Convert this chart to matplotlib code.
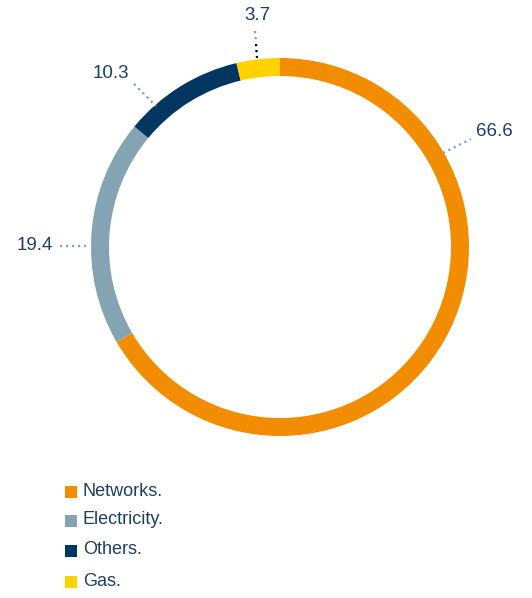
import matplotlib.pyplot as plt

# Reparto por negocio (%)
categorias = ["Networks.", "Electricity.", "Others.", "Gas."]
valores = [66.6, 19.4, 10.3, 3.7]
colores = ["#F28C00", "#84A3B3", "#00365F", "#FFD200"]

txt = "#1B3F66"
punteado = "#84A3B3"
plt.rcParams['font.family'] = ['Liberation Sans', 'DejaVu Sans']

W, H = 532, 598
fig = plt.figure(figsize=(W / 100, H / 100), dpi=100)
ax = fig.add_axes([0, 0, 1, 1])

def y(p):
    # coordenada vertical en pixeles desde arriba
    return H - p

# Anillo
ax.pie(valores, colors=colores, startangle=90, counterclock=False,
       center=(280, y(247)), radius=189, frame=True,
       wedgeprops=dict(width=18, linewidth=0))
ax.set_xlim(0, W)
ax.set_ylim(0, H)
ax.set_aspect('equal')
ax.axis('off')

# Etiquetas con lineas punteadas
fs = 13.5
ls = (0, (1, 1.7))
lw = 1.6
ax.plot([443, 471], [y(153), y(139)], ls=ls, lw=lw, color=punteado)
ax.text(476, y(131), f"{valores[0]:.1f}", color=txt, fontsize=fs, va='center', ha='left')

ax.plot([60, 89], [y(246), y(246)], ls=ls, lw=lw, color=punteado)
ax.text(53, y(245), f"{valores[1]:.1f}", color=txt, fontsize=fs, va='center', ha='right')

ax.plot([134, 156], [y(84), y(106)], ls=ls, lw=lw, color=punteado)
ax.text(111, y(74), f"{valores[2]:.1f}", color=txt, fontsize=fs, va='center', ha='center')

ax.plot([255, 256], [y(31), y(42)], ls=ls, lw=lw, color=punteado)
ax.plot([256, 257], [y(44), y(58)], ls=ls, lw=lw, color="black")
ax.text(257, y(16), f"{valores[3]:.1f}", color=txt, fontsize=fs, va='center', ha='center')

# Leyenda
filas = [492, 521, 551, 582]
for cat, col, fy in zip(categorias, colores, filas):
    ax.add_patch(plt.Rectangle((65, y(fy) - 6), 12, 12, color=col, lw=0))
    ax.text(83, y(fy) + 1, cat, color=txt, fontsize=13, va='center', ha='left')

fig.savefig("out.png", dpi=100)
